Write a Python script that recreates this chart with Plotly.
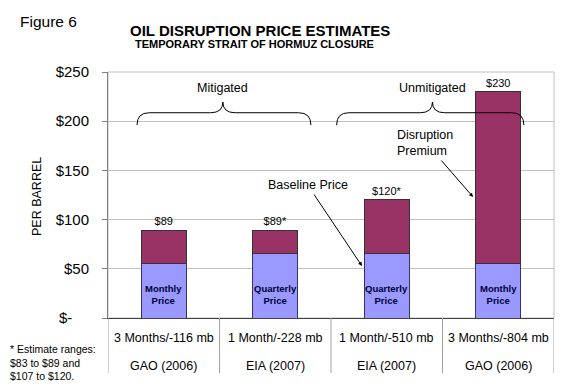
import plotly.graph_objects as go

# ---- data ----
scenarios = ["3 Months/-116 mb", "1 Month/-228 mb", "1 Month/-510 mb", "3 Months/-804 mb"]
sources = ["GAO (2006)", "EIA (2007)", "EIA (2007)", "GAO (2006)"]
baseline = [55, 66, 66, 55]
total = [89, 89, 120, 230]
total_labels = ["$89", "$89*", "$120*", "$230"]
base_labels = ["Monthly<br>Price", "Quarterly<br>Price", "Quarterly<br>Price", "Monthly<br>Price"]
premium = [t - b for t, b in zip(total, baseline)]
tick_vals = [0, 50, 100, 150, 200, 250]
tick_text = ["$-" + "\u00a0" * 4, "$50", "$100", "$150", "$200", "$250"]

FONT = "Liberation Sans, Arial, sans-serif"
xs = list(range(len(scenarios)))

# plot area in screen pixels: x 108..554, y 72..318 (page body has an 8px margin)
L, T, PW, PH = 100, 64, 446, 246


def px(x):
    return (x - 108) / PW


def py(y):
    return (318 - y) / PH


fig = go.Figure()
fig.add_trace(go.Bar(
    x=xs, y=baseline, width=0.4,
    marker=dict(color="#9999FF", line=dict(color="#333366", width=1)),
    hoverinfo="skip",
))
fig.add_trace(go.Bar(
    x=xs, y=premium, width=0.4,
    marker=dict(color="#993366", line=dict(color="#333333", width=1)),
    text=total_labels, textposition="outside", cliponaxis=False, textangle=0,
    outsidetextfont=dict(family=FONT, size=11, color="#000000"),
    hoverinfo="skip",
))

ann = []
# category labels (two rows) and in-bar labels
for i in xs:
    ann.append(dict(x=i, y=py(338), xref="x", yref="paper", text=scenarios[i], showarrow=False,
                    font=dict(family=FONT, size=12.5, color="#000"), yanchor="middle"))
    ann.append(dict(x=i, y=py(366), xref="x", yref="paper", text=sources[i], showarrow=False,
                    font=dict(family=FONT, size=12.5, color="#000"), yanchor="middle"))
    ann.append(dict(x=i, y=min(baseline) * 0.43, xref="x", yref="y", text="<b>" + base_labels[i].replace("<br>", "</b><br><b>") + "</b>",
                    showarrow=False, yanchor="middle",
                    font=dict(family=FONT, size=9.5, color="#000033")))

# titles
ann.append(dict(x=px(18), y=py(21), xref="paper", yref="paper", text="Figure 6", showarrow=False,
                xanchor="left", yanchor="middle", font=dict(family=FONT, size=15.5, color="#000")))
ann.append(dict(x=px(260), y=py(30), xref="paper", yref="paper",
                text="<b>OIL DISRUPTION PRICE ESTIMATES</b>", showarrow=False,
                xanchor="center", yanchor="middle", font=dict(family=FONT, size=15, color="#000")))
ann.append(dict(x=px(254), y=py(44), xref="paper", yref="paper",
                text="<b>TEMPORARY STRAIT OF HORMUZ CLOSURE</b>", showarrow=False,
                xanchor="center", yanchor="middle", font=dict(family=FONT, size=11, color="#000")))
ann.append(dict(x=px(37), y=py(197), xref="paper", yref="paper",
                text="PER BARREL", textangle=-90, showarrow=False,
                xanchor="center", yanchor="middle", font=dict(family=FONT, size=12.5, color="#000")))
ann.append(dict(x=px(8), y=py(362), xref="paper", yref="paper",
                text="* Estimate ranges:<br>$83 to $89 and<br>$107 to $120.", showarrow=False,
                align="left", xanchor="left", yanchor="middle",
                font=dict(family=FONT, size=10.5, color="#000")))

# group labels and braces
groups = [("Mitigated", -0.24, 1.32, 0.53), ("Unmitigated", 1.55, 3.23, 2.41)]
shapes = []
y_end, y_mid, y_tip, dx = 196, 208.6, 219.5, 0.11
for name, x0, x1, xm in groups:
    ann.append(dict(x=xm, y=233.7, xref="x", yref="y", text=name, showarrow=False,
                    font=dict(family=FONT, size=12.5, color="#000")))
    path = (f"M {x0},{y_end} Q {x0},{y_mid} {x0+dx},{y_mid} L {xm-dx},{y_mid} "
            f"Q {xm},{y_mid} {xm},{y_tip} Q {xm},{y_mid} {xm+dx},{y_mid} "
            f"L {x1-dx},{y_mid} Q {x1},{y_mid} {x1},{y_end}")
    shapes.append(dict(type="path", path=path, xref="x", yref="y",
                       line=dict(color="#000000", width=1), layer="above"))

# callouts
ann.append(dict(x=1.294, y=135.2, xref="x", yref="y", text="Baseline Price", showarrow=False,
                font=dict(family=FONT, size=12.5, color="#000")))
ann.append(dict(x=1.778, y=52.8, ax=1.339, ay=127, xref="x", yref="y", axref="x", ayref="y",
                text="", showarrow=True, arrowhead=2, arrowsize=0.8, arrowwidth=1, arrowcolor="#000"))
ann.append(dict(x=2.343, y=177.8, xref="x", yref="y", text="Disruption<br>Premium", showarrow=False,
                align="left", font=dict(family=FONT, size=12.5, color="#000")))
ann.append(dict(x=2.774, y=123, ax=2.478, ay=161.6, xref="x", yref="y", axref="x", ayref="y",
                text="", showarrow=True, arrowhead=2, arrowsize=0.8, arrowwidth=1, arrowcolor="#000"))

# plot frame and category separators
shapes.append(dict(type="rect", xref="paper", yref="paper", x0=0, x1=1, y0=0, y1=1,
                   line=dict(color="#c0c0c0", width=1), layer="below"))
for b in [-0.5, 0.5, 1.5, 2.5, 3.5]:
    shapes.append(dict(type="line", xref="x", yref="paper", x0=b, x1=b, y0=0, y1=py(373),
                       line=dict(color="#a0a0a0", width=1)))

fig.update_layout(
    width=L + PW + 26, height=T + PH + 74,
    margin=dict(l=L, r=26, t=T, b=74, autoexpand=False),
    paper_bgcolor="white", plot_bgcolor="white",
    barmode="stack", showlegend=False,
    font=dict(family=FONT, color="#000"),
    annotations=ann, shapes=shapes,
    xaxis=dict(range=[-0.5, 3.5], showticklabels=False, showgrid=False, zeroline=False,
               showline=True, linecolor="#404040", linewidth=1, ticks=""),
    yaxis=dict(range=[0, 250], tickvals=tick_vals, ticktext=tick_text,
               tickfont=dict(family=FONT, size=15, color="#000"),
               showgrid=True, gridcolor="#c0c0c0", gridwidth=1, zeroline=False,
               showline=True, linecolor="#808080", linewidth=1,
               ticks="outside", ticklen=5, tickcolor="#808080", ticklabelstandoff=10),
)

fig.write_html("out.html")
